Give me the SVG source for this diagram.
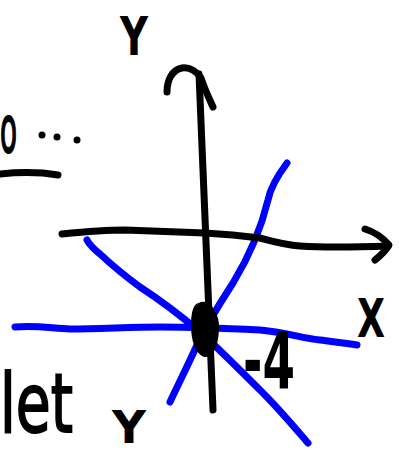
<svg xmlns="http://www.w3.org/2000/svg" width="399" height="452" viewBox="0 0 399 452">
<style>
.ink{fill:none;stroke:#000;stroke-width:7;stroke-linecap:round;stroke-linejoin:round}
.blue{fill:none;stroke:#0000ff;stroke-width:7;stroke-linecap:round;stroke-linejoin:round}
.hand{font-family:"DejaVu Sans","Liberation Sans",sans-serif;font-weight:bold;fill:#000}
.thin{font-weight:normal}
</style>
<rect width="399" height="452" fill="#fff"/>
<g id="left-notes">
<text class="hand thin" x="0" y="152" font-size="64" textLength="17" lengthAdjust="spacingAndGlyphs" stroke="#000" stroke-width="2">o</text>
<circle cx="42" cy="135" r="3.5" fill="#000"/>
<circle cx="57" cy="137" r="3.5" fill="#000"/>
<circle cx="77" cy="140" r="3.5" fill="#000"/>
<path class="ink" d="M0,174 C20,172 40,172 58,175"/>
<text class="hand thin" x="0" y="432" font-size="82" textLength="73" lengthAdjust="spacingAndGlyphs" stroke="#000" stroke-width="2">let</text>
</g>
<g id="blue-lines">
<path class="blue" d="M287,163 C278,175 270,190 268,200 C262,225 250,255 233,283 C222,300 210,318 197,345 C188,365 178,385 170,402"/>
<path class="blue" d="M87,240 C90,246 95,250 100,254 C115,268 125,276 140,287 C160,300 180,315 200,332 C215,345 240,370 262,392 C280,410 295,428 308,443"/>
<path class="blue" d="M15,327 C35,325 50,328 70,329 C100,329 130,327 160,327 C190,327 220,328 260,330 C290,333 300,338 320,340 C335,342 345,343 357,345"/>
</g>
<g id="axes">
<path class="ink" d="M199,74 C203,150 207,260 213,410"/>
<path class="ink" d="M167,92 C167,80 172,70 182,68 C190,67 197,72 201,78 C205,90 209,98 213,107"/>
<path class="ink" d="M62,234 C82,232 105,230 125,230 C150,231 180,232 205,233 C225,234 245,236 260,238 C275,242 285,245 300,246 C330,248 360,247 388,246"/>
<path class="ink" d="M365,229 C375,232 383,238 389,245 C385,252 380,256 375,260"/>
<path d="M199,305 C209,300 218,315 217,330 C216,345 212,356 205,355 C197,353 193,340 193,325 C193,312 195,306 199,305 Z" fill="#000" stroke="#000" stroke-width="4"/>
</g>
<g id="labels">
<text class="hand" x="120" y="55" font-size="54" textLength="28" lengthAdjust="spacingAndGlyphs">Y</text>
<text class="hand" x="357" y="337" font-size="54" textLength="28" lengthAdjust="spacingAndGlyphs">X</text>
<text class="hand" x="243" y="388" font-size="78" textLength="52" lengthAdjust="spacingAndGlyphs">-4</text>
<text class="hand" x="112" y="443" font-size="44" textLength="34" lengthAdjust="spacingAndGlyphs">Y</text>
</g>
</svg>
